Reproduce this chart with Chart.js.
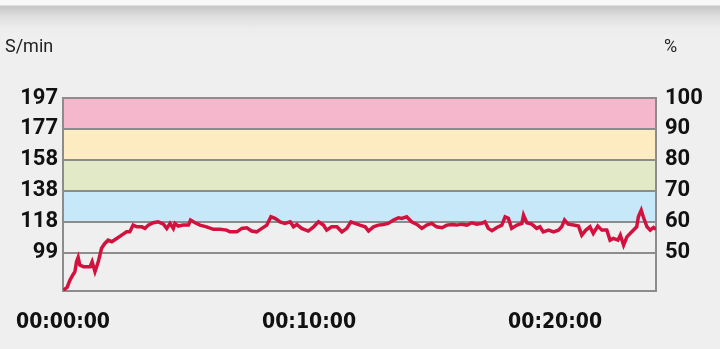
<!DOCTYPE html>
<html>
<head>
<meta charset="utf-8">
<script src="https://cdn.jsdelivr.net/npm/chart.js@4"></script>
<style>
  html, body {
    margin: 0;
    padding: 0;
  }
  body {
    width: 720px;
    height: 349px;
    overflow: hidden;
    background: linear-gradient(to bottom, #f8f8f8 0px, #f8f8f8 5px, #c6c6c6 6px, #dedede 16px, #ececec 28px, #efefef 36px, #efefef 100%);
  }
  #wrap {
    position: absolute;
    left: 0;
    top: 0;
    width: 720px;
    height: 349px;
  }
</style>
</head>
<body>
<div id="wrap"><canvas id="cadence-chart"></canvas></div>
<script>
// elapsed time (seconds) and cadence (S/min)
const seconds = [1, 10, 17, 24, 29, 33, 37, 41, 50, 66, 71, 78, 86, 94, 102, 110, 119, 131, 143, 155,
    163, 171, 180, 192, 200, 208, 220, 232, 245, 253, 261, 269, 273, 281, 293, 306, 311, 322, 334, 350,
    367, 383, 399, 407, 424, 436, 448, 460, 472, 485, 497, 507, 517, 529, 541, 554, 562, 570, 582, 598,
    611, 623, 635, 643, 655, 668, 680, 692, 702, 712, 724, 737, 745, 757, 769, 781, 793, 806, 818, 826,
    838, 850, 863, 875, 887, 899, 911, 924, 936, 948, 960, 972, 985, 997, 1009, 1021, 1029, 1037, 1046, 1058,
    1070, 1078, 1086, 1094, 1107, 1119, 1123, 1131, 1143, 1155, 1163, 1171, 1184, 1196, 1208, 1216, 1223, 1232, 1245, 1257,
    1265, 1275, 1285, 1293, 1304, 1314, 1326, 1334, 1342, 1353, 1359, 1367, 1375, 1387, 1399, 1403, 1410, 1415, 1424, 1432,
    1440, 1446];
const cadence = [74.6, 76.3, 81, 84.2, 86.3, 92.6, 95.4, 90.5, 89.5, 89.5, 92.6, 86.3, 92.6, 101.2, 104.3, 106.4, 105.4, 107.5, 109.6, 111.7,
    111.7, 116, 114.9, 114.9, 113.9, 116, 117.5, 118.1, 116.6, 113.9, 117.1, 113.9, 117.1, 115.4, 116, 116, 119.2, 117.5, 116, 114.9,
    113.3, 113.3, 112.8, 111.7, 111.7, 113.9, 114.3, 112.2, 111.7, 113.9, 116, 121.3, 120.3, 118.1, 117.1, 118.1, 114.9, 116.4, 113.9, 112.2,
    114.9, 118.1, 116, 112.8, 114.9, 114.9, 111.7, 113.9, 118.1, 117.1, 116, 114.9, 112.2, 114.9, 116, 116.4, 117.1, 119.2, 120.7, 120.3,
    121.3, 118.1, 116.4, 113.9, 116, 117.1, 114.9, 114.3, 116, 116.4, 116, 116.6, 116, 117.5, 116.6, 117.1, 118.1, 113.9, 112.4, 114.5,
    116, 121.3, 120.3, 113.9, 116, 117.1, 122.4, 117.5, 116.6, 113.9, 114.9, 111.7, 112.8, 111.7, 112.8, 114.9, 119.2, 116.6, 116, 115.4,
    109.6, 112.8, 114.9, 110.7, 115.4, 112.8, 112.8, 106.4, 107.5, 106.4, 109.6, 103.2, 108.5, 111.7, 114.9, 121.3, 125.5, 121.3, 114.9, 112.8,
    114.5, 113.3];

// axis ticks
const leftTickValues = [98.5, 118.2, 137.9, 157.6, 177.3, 197];
const leftTickLabels = ['99', '118', '138', '158', '177', '197'];
const rightTickValues = [50, 60, 70, 80, 90, 100];
const xTickValues = [0, 600, 1200];
const xTickLabels = ['00:00:00', '00:10:00', '00:20:00'];

// intensity zones on the % axis
const zoneBounds = [60, 70, 80, 90, 100];
const zoneColors = ['#c6e8f8', '#e1e9c7', '#fdecc1', '#f4b7cc'];

const canvas = document.querySelector('#cadence-chart');
const gridGrey = '#8c8c8c';
const tickFont = { family: 'Roboto', size: 22, weight: 'bold' };

// zone bands, painted before the grid
const zonePlugin = {
    id: 'zones',
    beforeDraw(chart) {
        const ctx = chart.ctx;
        const area = chart.chartArea;
        const pct = chart.scales.y2;
        ctx.save();
        for (let i = 0; i < zoneColors.length; i++) {
            const top = pct.getPixelForValue(zoneBounds[i + 1]);
            const bottom = pct.getPixelForValue(zoneBounds[i]);
            ctx.fillStyle = zoneColors[i];
            ctx.fillRect(area.left, top, area.right - area.left, bottom - top);
        }
        ctx.restore();
    }
};

// unit captions above the axes
const unitPlugin = {
    id: 'units',
    afterDraw(chart) {
        const ctx = chart.ctx;
        ctx.save();
        ctx.fillStyle = '#222';
        ctx.font = '18px Roboto';
        ctx.textBaseline = 'alphabetic';
        ctx.textAlign = 'left';
        ctx.fillText('S/min', 5, 52);
        ctx.fillText('%', 664, 52);
        ctx.restore();
    }
};

const cadenceChart = new Chart(canvas, {
    type: 'line',
    data: {
        datasets: [{
            data: seconds.map((s, i) => ({ x: s, y: cadence[i] })),
            borderColor: '#d2123e',
            borderWidth: 3.5,
            pointRadius: 0,
            tension: 0,
            yAxisID: 'y',
        }]
    },
    options: {
        responsive: true,
        maintainAspectRatio: false,
        animation: false,
        layout: {
            padding: { top: 98, left: 0, right: 0, bottom: 0 }
        },
        plugins: {
            legend: { display: false },
            tooltip: { enabled: false },
        },
        scales: {
            x: {
                type: 'linear',
                min: 0,
                max: 1446,
                afterBuildTicks: (axis) => {
                    axis.ticks = xTickValues.map(v => ({ value: v }));
                },
                afterFit: (axis) => {
                    axis.height = 58;
                    axis.paddingLeft = 0;
                    axis.paddingRight = 0;
                },
                grid: { display: false, drawTicks: false },
                border: { color: gridGrey, width: 2 },
                ticks: {
                    autoSkip: false,
                    maxRotation: 0,
                    padding: 19,
                    color: '#111',
                    font: { family: "'DejaVu Sans Condensed', Roboto", size: 21, weight: 'bold' },
                    callback: (value) => xTickLabels[xTickValues.indexOf(value)],
                },
            },
            y: {
                position: 'left',
                min: 74,
                max: 197,
                afterBuildTicks: (axis) => {
                    axis.ticks = leftTickValues.map(v => ({ value: v }));
                },
                afterFit: (axis) => { axis.width = 63; },
                grid: { color: gridGrey, lineWidth: 2, drawTicks: false },
                border: { color: gridGrey, width: 2 },
                ticks: {
                    padding: 5,
                    color: '#111',
                    font: tickFont,
                    callback: (value) => leftTickLabels[leftTickValues.indexOf(value)],
                },
            },
            y2: {
                position: 'right',
                min: 37.56,
                max: 100,
                afterBuildTicks: (axis) => {
                    axis.ticks = rightTickValues.map(v => ({ value: v }));
                },
                afterFit: (axis) => { axis.width = 64; },
                grid: { display: false, drawTicks: false },
                border: { color: gridGrey, width: 2 },
                ticks: {
                    padding: 9,
                    color: '#111',
                    font: tickFont,
                },
            },
        },
    },
    plugins: [zonePlugin, unitPlugin],
});
</script>
</body>
</html>
